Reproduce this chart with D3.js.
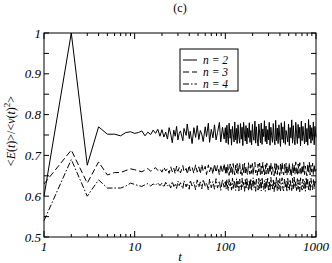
<!DOCTYPE html>
<html>
<head>
<meta charset="utf-8">
<script src="https://cdn.jsdelivr.net/npm/d3@7"></script>
<style>
  body { margin: 0; background: #fff; }
</style>
</head>
<body>
<div id="chartArea"></div>
<script>
const timeSteps = [1, 2, 3, 4, 5, 6, 7, 8, 9, 10, 11, 12, 13, 14, 15, 16, 17, 18, 19,
  20, 21, 22, 23, 24, 25, 26, 27, 28, 29, 30, 31, 32,
  34, 35, 37, 38, 40, 41, 43, 45, 47, 49,
  51, 53, 55, 57, 60, 62, 65, 67, 70, 73,
  76, 79, 82, 86, 89, 93, 97,
  100, 102, 104, 106, 108, 110, 113, 115, 117, 120,
  122, 125, 127, 130, 133, 135, 138, 141, 144, 147,
  150, 153, 156, 159, 163, 166, 169, 173, 176, 180,
  184, 187, 191, 195, 199, 203, 207, 212, 216, 220,
  225, 230, 234, 239, 244, 249, 254, 259, 265, 270,
  276, 281, 287, 293, 299, 305, 311, 318, 324, 331,
  338, 345, 352, 359, 366, 374, 382, 390, 398, 406,
  414, 423, 431, 440, 449, 459, 468, 478, 488, 498,
  508, 518, 529, 540, 551, 562, 574, 586, 598, 610,
  623, 635, 648, 662, 675, 689, 703, 718, 733, 748,
  763, 779, 795, 811, 828, 845, 862, 880, 898, 917,
  935, 955, 974, 1000];

// <E(t)>/<v(t)^2>, in thousandths
const ratioN2 = [600, 1000, 676, 770, 752, 752, 748, 756, 758, 754, 756, 760, 748, 757, 751, 762, 754, 764, 747,
  763, 745, 757, 740, 768, 752, 731, 762, 747, 771, 738, 754, 760,
  736, 766, 749, 777, 741, 759, 729, 768, 744, 773,
  739, 761, 752, 734, 770, 746, 779, 732, 764, 743,
  775, 738, 756, 781, 733, 769, 740,
  768, 731, 774, 748, 727, 779, 742, 764, 725, 771,
  753, 733, 782, 738, 766, 729, 775, 745, 730, 778,
  740, 769, 724, 781, 751, 735, 773, 728, 767, 744,
  780, 732, 761, 726, 776, 747, 737, 784, 730, 770,
  741, 723, 777, 755, 731, 779, 727, 765, 746, 785,
  734, 772, 728, 763, 738, 781, 725, 769, 749, 732,
  778, 741, 726, 786, 736, 767, 729, 775, 745, 722,
  780, 739, 770, 731, 783, 727, 761, 748, 733, 777,
  724, 768, 743, 787, 730, 773, 739, 726, 781, 754,
  729, 776, 742, 769, 723, 784, 736, 771, 747, 728,
  779, 733, 766, 725, 788, 741, 774, 730, 768, 737,
  782, 726, 771, 744];

const ratioN3 = [630, 713, 632, 684, 652, 658, 658, 663, 667, 665, 662, 660, 664, 668, 661, 666, 670, 663, 667,
  659, 671, 662, 668, 656, 672, 660, 669, 655, 674, 661, 670, 657,
  675, 660, 668, 654, 676, 662, 671, 656, 677, 659,
  672, 655, 678, 661, 673, 653, 677, 660, 674, 654,
  679, 658, 675, 652, 678, 657, 680,
  656, 675, 653, 678, 664, 651, 679, 658, 672, 653,
  680, 661, 652, 676, 657, 680, 654, 670, 682, 655,
  666, 651, 678, 658, 681, 653, 673, 659, 652, 682,
  662, 654, 677, 656, 680, 652, 671, 683, 657, 663,
  651, 679, 660, 681, 653, 674, 655, 683, 658, 652,
  677, 654, 681, 663, 651, 676, 657, 682, 653, 672,
  659, 650, 680, 656, 683, 653, 675, 661, 651, 679,
  655, 683, 660, 652, 678, 657, 681, 651, 673, 658,
  682, 653, 669, 650, 680, 657, 677, 654, 684, 660,
  651, 679, 656, 682, 662, 652, 676, 655, 683, 653,
  674, 658, 650, 680, 657, 683, 652, 676, 659, 681,
  652, 678, 657, 666];

const ratioN4 = [540, 690, 600, 640, 620, 620, 620, 625, 632, 629, 626, 624, 628, 631, 625, 630, 627, 633, 626,
  632, 622, 634, 625, 630, 620, 636, 624, 631, 619, 637, 626, 633,
  618, 638, 623, 632, 617, 639, 625, 634, 616, 640,
  622, 635, 618, 641, 624, 633, 615, 642, 621, 636,
  617, 643, 620, 637, 614, 641, 622,
  638, 617, 641, 621, 614, 643, 625, 635, 615, 644,
  619, 639, 630, 614, 643, 620, 637, 613, 642, 623,
  616, 644, 622, 634, 612, 641, 618, 645, 626, 614,
  639, 617, 643, 613, 633, 645, 620, 636, 612, 642,
  623, 615, 644, 619, 640, 613, 646, 627, 616, 638,
  612, 642, 621, 644, 615, 635, 613, 646, 624, 618,
  642, 611, 637, 622, 646, 614, 639, 617, 643, 613,
  633, 645, 619, 613, 642, 623, 638, 611, 646, 620,
  615, 641, 625, 612, 644, 618, 647, 621, 636, 614,
  643, 617, 640, 611, 645, 622, 615, 642, 619, 637,
  612, 646, 622, 641, 616, 636, 612, 644, 626, 616,
  642, 618, 639, 628];

const seriesNames = ['n = 2', 'n = 3', 'n = 4'];
const seriesValues = [ratioN2, ratioN3, ratioN4];
const seriesDash = [null, '6,3', '6,2,1.5,2'];

const xMajorTicks = [1, 10, 100, 1000];
const xMinorTicks = [2, 3, 4, 5, 6, 7, 8, 9, 20, 30, 40, 50, 60, 70, 80, 90, 200, 300, 400, 500, 600, 700, 800, 900];
const yMajorTicks = [0.5, 0.6, 0.7, 0.8, 0.9, 1];
const yMinorTicks = [0.55, 0.65, 0.75, 0.85, 0.95];

const svgWidth = 332;
const svgHeight = 263;
const plotLeft = 44;
const plotRight = 316;
const plotTop = 33;
const plotBottom = 237;
const serif = 'Liberation Serif';

const canvas = d3.select('#chartArea')
  .append('svg')
  .attr('width', svgWidth)
  .attr('height', svgHeight);

const x = d3.scaleLog().domain([1, 1000]).range([plotLeft, plotRight]);
const y = d3.scaleLinear().domain([0.5, 1]).range([plotBottom, plotTop]);

// title
canvas.append('text')
  .attr('x', 180)
  .attr('y', 12)
  .attr('text-anchor', 'middle')
  .attr('font-family', serif)
  .attr('font-size', 12)
  .text('(c)');

// data lines
const line = d3.line()
  .x((d, i) => x(timeSteps[i]))
  .y(d => y(d / 1000));

seriesValues.forEach((vals, k) => {
  canvas.append('path')
    .datum(vals.slice(0, timeSteps.length))
    .attr('d', line)
    .attr('fill', 'none')
    .attr('stroke', '#000')
    .attr('stroke-width', 1)
    .attr('stroke-linejoin', 'round')
    .attr('stroke-dasharray', seriesDash[k]);
});

// frame
canvas.append('rect')
  .attr('x', plotLeft)
  .attr('y', plotTop)
  .attr('width', plotRight - plotLeft)
  .attr('height', plotBottom - plotTop)
  .attr('fill', 'none')
  .attr('stroke', '#000')
  .attr('stroke-width', 1);

// ticks (pointing inward on all four sides)
const ticks = canvas.append('g').attr('stroke', '#000').attr('stroke-width', 1);
function xTick(v, len) {
  ticks.append('line').attr('x1', x(v)).attr('x2', x(v)).attr('y1', plotBottom).attr('y2', plotBottom - len);
  ticks.append('line').attr('x1', x(v)).attr('x2', x(v)).attr('y1', plotTop).attr('y2', plotTop + len);
}
function yTick(v, len) {
  ticks.append('line').attr('y1', y(v)).attr('y2', y(v)).attr('x1', plotLeft).attr('x2', plotLeft + len);
  ticks.append('line').attr('y1', y(v)).attr('y2', y(v)).attr('x1', plotRight).attr('x2', plotRight - len);
}
xMajorTicks.forEach(v => xTick(v, 6));
xMinorTicks.forEach(v => xTick(v, 3));
yMajorTicks.forEach(v => yTick(v, 5));
yMinorTicks.forEach(v => yTick(v, 5));

// tick labels
canvas.append('g').selectAll('text')
  .data(xMajorTicks)
  .join('text')
  .attr('x', d => x(d))
  .attr('y', plotBottom + 14)
  .attr('text-anchor', 'middle')
  .attr('font-family', serif)
  .attr('font-size', 13)
  .attr('font-style', 'italic')
  .text(d => d);

canvas.append('g').selectAll('text')
  .data(yMajorTicks)
  .join('text')
  .attr('x', plotLeft - 3)
  .attr('y', d => y(d) + 4.5)
  .attr('text-anchor', 'end')
  .attr('font-family', serif)
  .attr('font-size', 13)
  .attr('font-style', 'italic')
  .text(d => d);

// axis titles
canvas.append('text')
  .attr('x', 180)
  .attr('y', 261)
  .attr('text-anchor', 'middle')
  .attr('font-family', serif)
  .attr('font-size', 13)
  .attr('font-style', 'italic')
  .text('t');

const yTitle = canvas.append('text')
  .attr('transform', 'translate(15,131) rotate(-90)')
  .attr('text-anchor', 'middle')
  .attr('font-family', serif)
  .attr('font-size', 12);
yTitle.append('tspan').text('<');
yTitle.append('tspan').attr('font-style', 'italic').text('E');
yTitle.append('tspan').text('(');
yTitle.append('tspan').attr('font-style', 'italic').text('t');
yTitle.append('tspan').text(')>/<');
yTitle.append('tspan').attr('font-style', 'italic').text('v');
yTitle.append('tspan').text('(');
yTitle.append('tspan').attr('font-style', 'italic').text('t');
yTitle.append('tspan').text(')');
yTitle.append('tspan').attr('dy', -5).attr('font-size', 9).text('2');
yTitle.append('tspan').attr('dy', 5).text('>');

// legend
const legend = canvas.append('g');
legend.append('rect')
  .attr('x', 180)
  .attr('y', 49)
  .attr('width', 58)
  .attr('height', 42)
  .attr('fill', '#fff')
  .attr('stroke', '#000')
  .attr('stroke-width', 1);

seriesNames.forEach((name, k) => {
  const rowY = 60 + k * 12;
  legend.append('line')
    .attr('x1', 183)
    .attr('x2', 197)
    .attr('y1', rowY)
    .attr('y2', rowY)
    .attr('stroke', '#000')
    .attr('stroke-width', 1)
    .attr('stroke-dasharray', seriesDash[k]);
  legend.append('text')
    .attr('x', 203)
    .attr('y', rowY + 4)
    .attr('font-family', serif)
    .attr('font-size', 11.5)
    .attr('font-style', 'italic')
    .text(name);
});
</script>
</body>
</html>
